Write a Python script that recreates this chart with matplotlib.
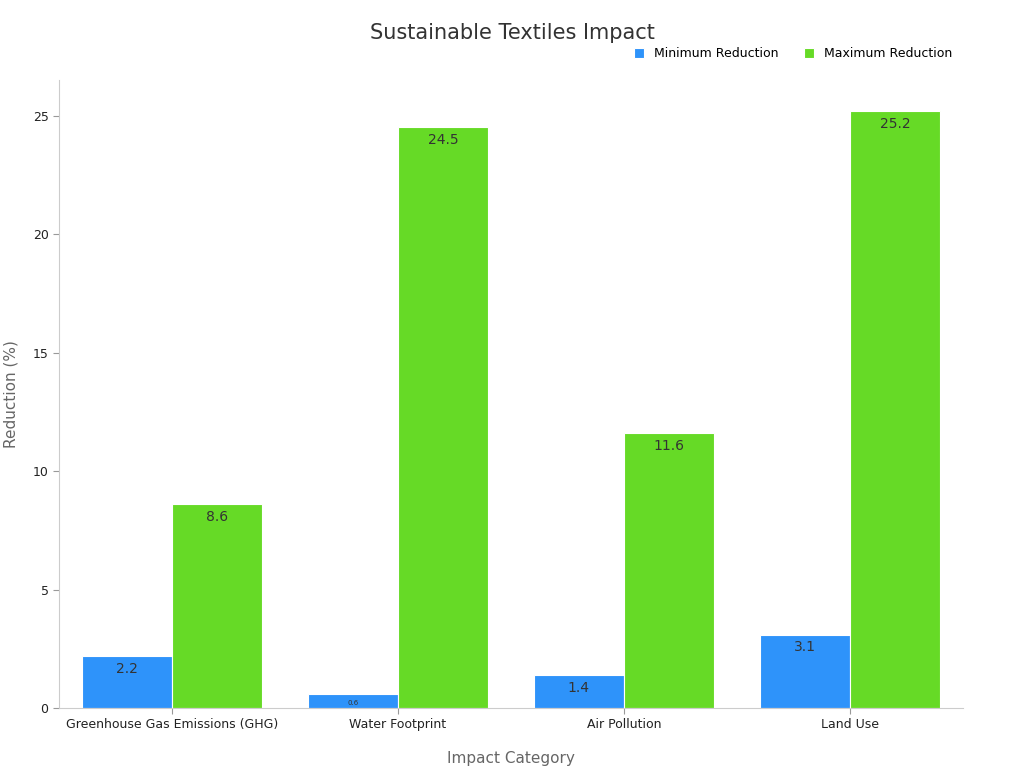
import numpy as np
import matplotlib.pyplot as plt

categories = ["Greenhouse Gas Emissions (GHG)", "Water Footprint", "Air Pollution", "Land Use"]
min_reduction = [2.2, 0.6, 1.4, 3.1]
max_reduction = [8.6, 24.5, 11.6, 25.2]

fig = plt.figure(figsize=(10.24, 7.68), dpi=100)
ax = fig.add_axes([59 / 1024, 60 / 768, 904 / 1024, 628 / 768])

x = np.arange(len(categories))
w = 0.4
b1 = ax.bar(x - w / 2, min_reduction, w, color="#2E93FA", edgecolor="white", linewidth=0.8, label="Minimum Reduction")
b2 = ax.bar(x + w / 2, max_reduction, w, color="#66DA26", edgecolor="white", linewidth=0.8, label="Maximum Reduction")

for bars in (b1, b2):
    for rect in bars:
        h = rect.get_height()
        fs = 5 if h < 1 else 10
        ax.text(rect.get_x() + rect.get_width() / 2, h - 0.25, f"{h:g}", ha="center", va="top",
                fontsize=fs, color="#333333")

ax.set_xlim(-0.5, 3.5)
ax.set_ylim(0, 26.5)
ax.set_xticks(x)
ax.set_xticklabels(categories, fontsize=9, color="#222222")
ax.set_yticks([0, 5, 10, 15, 20, 25])
ax.tick_params(axis="y", labelsize=9, colors="#222222", length=4)
ax.tick_params(axis="x", length=4)
for s in ["top", "right"]:
    ax.spines[s].set_visible(False)
for s in ["left", "bottom"]:
    ax.spines[s].set_color("#cccccc")
ax.tick_params(color="#999999")

ax.set_xlabel("Impact Category", fontsize=11, color="#666666", labelpad=14)
ax.set_ylabel("Reduction (%)", fontsize=11, color="#666666", labelpad=10)
fig.text(0.5, 0.957, "Sustainable Textiles Impact", ha="center", va="center", fontsize=15, color="#333333")
ax.legend(loc="upper right", bbox_to_anchor=(1.0, 1.07), ncol=2, frameon=False, fontsize=9,
          handlelength=0.8, handleheight=0.8, columnspacing=2)

fig.savefig("out.png", dpi=100)
